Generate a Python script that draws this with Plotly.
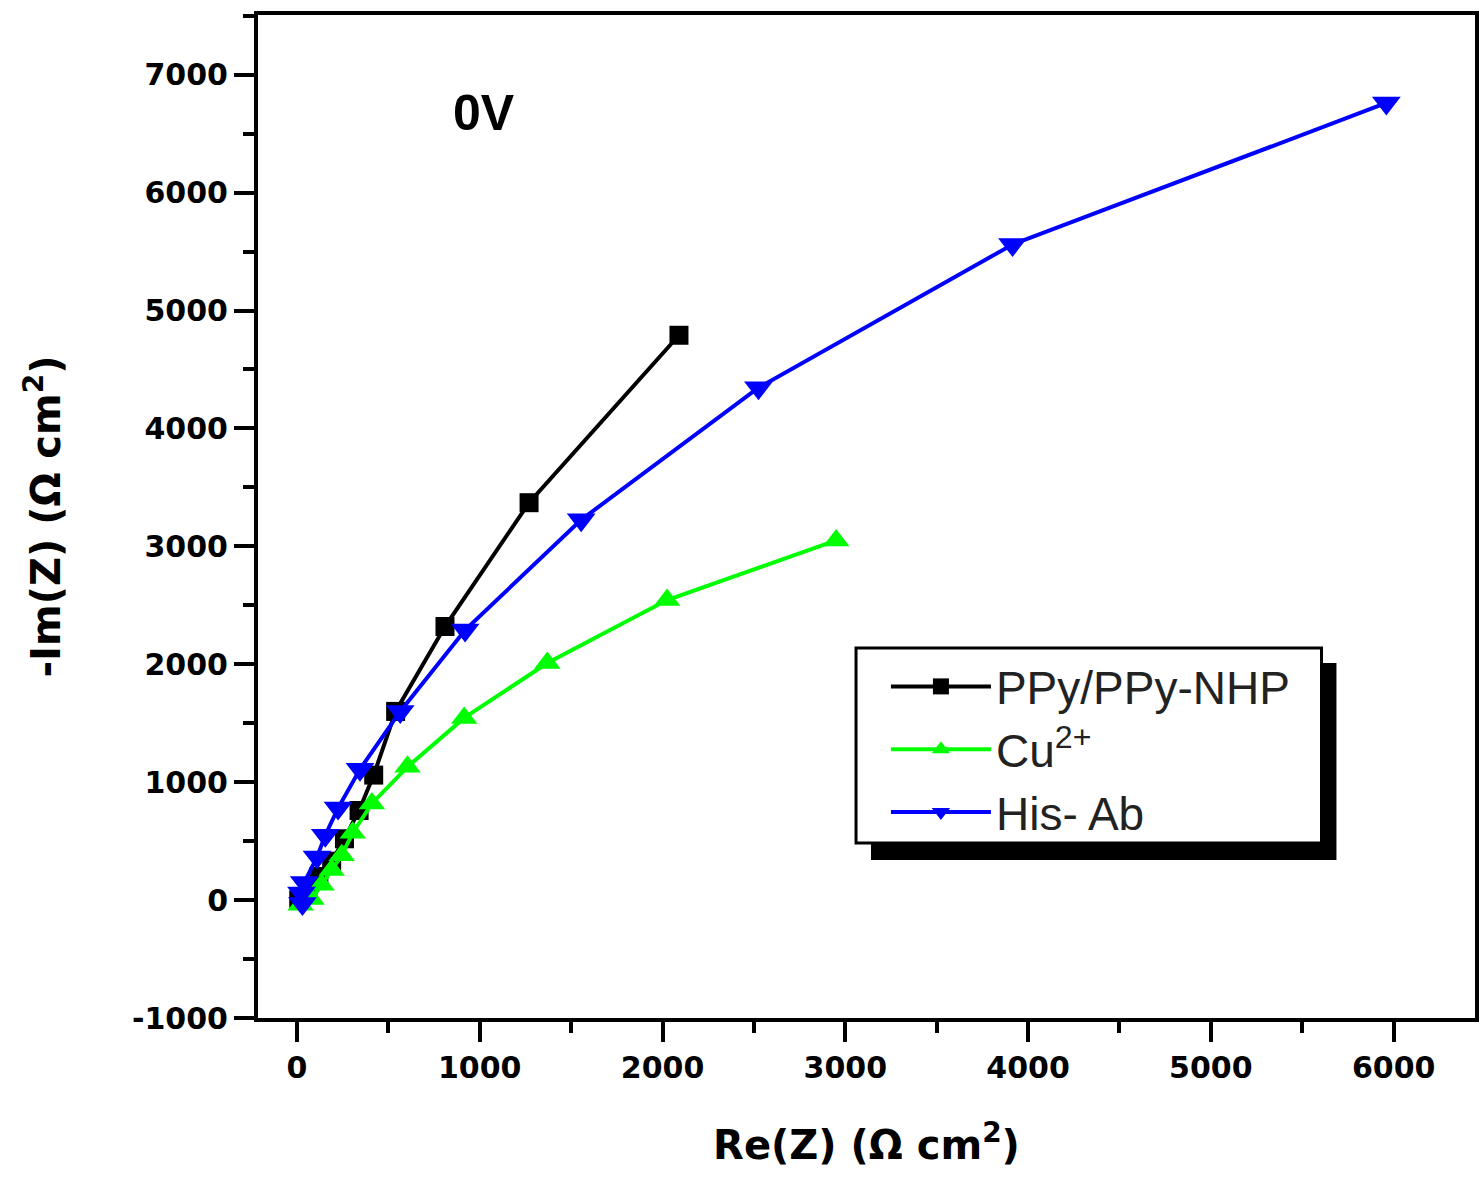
import plotly.graph_objects as go

# Data (Nyquist plot at 0 V)
ppy_re = [10, 60, 120, 190, 260, 340, 420, 540, 810, 1270, 2090]
ppy_im = [0, 80, 200, 330, 520, 760, 1060, 1600, 2320, 3370, 4790]

cu_re = [20, 80, 135, 190, 245, 305, 410, 605, 915, 1370, 2025, 2950]
cu_im = [-40, 10, 130, 255, 380, 570, 820, 1130, 1545, 2010, 2545, 3050]

his_re = [30, 25, 40, 110, 155, 225, 345, 565, 920, 1555, 2525, 3915, 5960]
his_im = [-30, 60, 150, 365, 550, 780, 1110, 1600, 2290, 3225, 4345, 5560, 6760]

names = ["PPy/PPy-NHP", "Cu<sup>2+</sup>", "His- Ab"]
x_ticks = [0, 1000, 2000, 3000, 4000, 5000, 6000]
y_ticks = [-1000, 0, 1000, 2000, 3000, 4000, 5000, 6000, 7000]

fig = go.Figure()
fig.add_trace(go.Scatter(x=ppy_re, y=ppy_im, name=names[0], mode="lines+markers",
                         line=dict(color="#000000", width=4),
                         marker=dict(symbol="square", size=19, color="#000000")))
fig.add_trace(go.Scatter(x=cu_re, y=cu_im, name=names[1], mode="lines+markers",
                         line=dict(color="#00ff00", width=4),
                         marker=dict(symbol="triangle-up", size=23, color="#00ff00")))
fig.add_trace(go.Scatter(x=his_re, y=his_im, name=names[2], mode="lines+markers",
                         line=dict(color="#0000ff", width=4),
                         marker=dict(symbol="triangle-down", size=25, color="#0000ff")))

tickfont = dict(family="DejaVu Sans", size=30, color="#000000")
titlefont = dict(family="DejaVu Sans", size=40, color="#000000")

def px_x(p):
    return (p - 258) / 1221

def px_y(p):
    return (1018 - p) / 1003

fig.update_layout(
    width=1479, height=1177,
    margin=dict(l=258, r=0, t=15, b=159),
    paper_bgcolor="white", plot_bgcolor="white",
    showlegend=True,
    legend=dict(x=px_x(888), y=px_y(650), xanchor="left", yanchor="top",
                bgcolor="rgba(0,0,0,0)", borderwidth=0,
                font=dict(family="Liberation Sans", size=46, color="#222222"),
                itemwidth=100, tracegroupgap=0),
    xaxis=dict(range=[-213, 6445], tickvals=x_ticks,
               ticktext=[f"<b>{v}</b>" for v in x_ticks],
               showgrid=False, zeroline=False, showline=True, linecolor="black",
               linewidth=4, mirror=True, ticks="outside", ticklen=20, tickwidth=4,
               tickcolor="black", tickfont=tickfont,
               minor=dict(dtick=500, tick0=0, ticks="outside", ticklen=11, tickwidth=4,
                          tickcolor="black", showgrid=False),
               title=dict(text="<b>Re(Z) (Ω cm<sup>2</sup>)</b>", font=titlefont, standoff=48)),
    yaxis=dict(range=[-1000, 7506], tickvals=y_ticks,
               ticktext=[f"<b>{v}</b>" for v in y_ticks],
               showgrid=False, zeroline=False, showline=True, linecolor="black",
               linewidth=4, mirror=True, ticks="outside", ticklen=20, tickwidth=4,
               tickcolor="black", tickfont=tickfont,
               minor=dict(dtick=500, tick0=0, ticks="outside", ticklen=11, tickwidth=4,
                          tickcolor="black", showgrid=False),
               title=dict(text="<b>-Im(Z) (Ω cm<sup>2</sup>)</b>", font=titlefont, standoff=60)),
    annotations=[dict(x=1025, y=6675, xref="x", yref="y", text="<b>0V</b>", showarrow=False,
                      font=dict(family="Liberation Sans", size=50, color="black"))],
    shapes=[
        dict(type="rect", xref="paper", yref="paper", layer="below",
             x0=px_x(873), x1=px_x(1340), y0=px_y(860), y1=px_y(663),
             fillcolor="black", line=dict(width=0)),
        dict(type="rect", xref="paper", yref="paper", layer="below",
             x0=px_x(858), x1=px_x(1325), y0=px_y(843), y1=px_y(648),
             fillcolor="white", line=dict(color="black", width=3)),
    ],
)

fig.write_html("out.html")
